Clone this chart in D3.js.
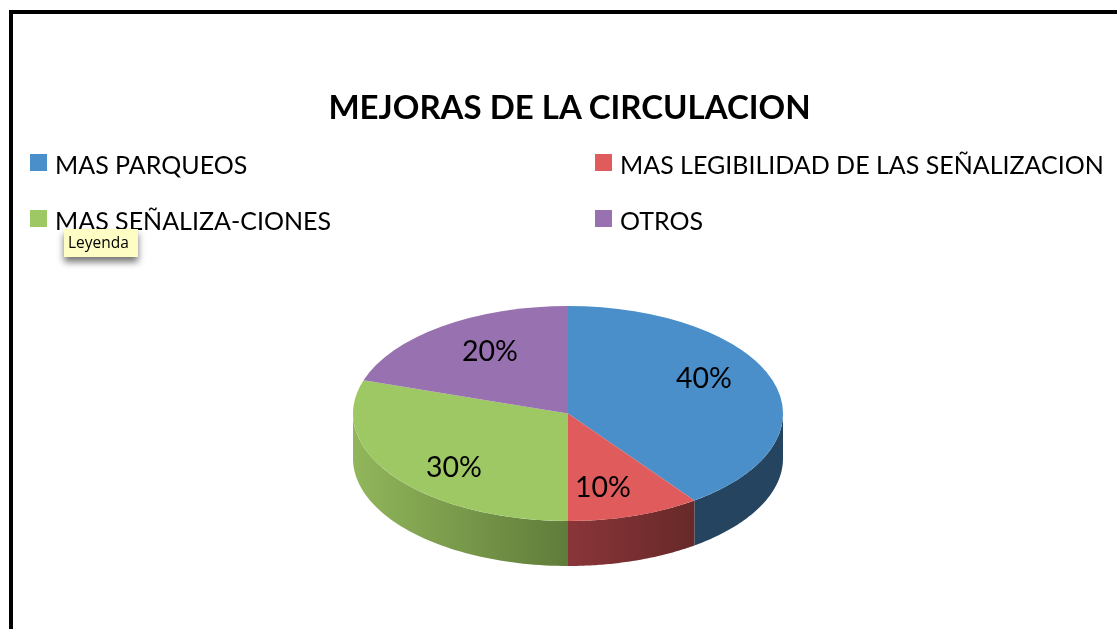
<!DOCTYPE html>
<html lang="es">
<head>
<meta charset="utf-8">
<title>Mejoras de la circulacion</title>
<script src="https://cdn.jsdelivr.net/npm/d3@7"></script>
<style>
    html, body { margin: 0; padding: 0; background: #fff; overflow: hidden; }
    svg { display: block; filter: blur(0.45px); }
    text { font-family: Lato, Carlito, "Open Sans", sans-serif; fill: #000; }
</style>
</head>
<body>
<div id="chart"></div>
<script>
const titleText = "MEJORAS DE LA CIRCULACION";
const categories = ["MAS PARQUEOS", "MAS LEGIBILIDAD DE LAS SEÑALIZACION", "MAS SEÑALIZA-CIONES", "OTROS"];
const values = [40, 10, 30, 20];
const topColors = ["#4a8fca", "#e05c5c", "#9ec863", "#9872b0"];
const wallLeftColors = ["#24445f", "#8a3539", "#91b65b", "#9872b0"];
const wallRightColors = ["#24445f", "#672929", "#607c3a", "#9872b0"];

const width = 1117, height = 629;
const cx = 568, cy = 413.5, rx = 215, ry = 107.5, depth = 45;

const svg = d3.select("#chart").append("svg")
    .attr("width", width)
    .attr("height", height);

// frame runs off the right and bottom of the screenshot
svg.append("rect")
    .attr("x", 11).attr("y", 12)
    .attr("width", width + 20).attr("height", height + 20)
    .attr("fill", "#fff")
    .attr("stroke", "#000")
    .attr("stroke-width", 4);

svg.append("text")
    .attr("x", 569.5).attr("y", 119)
    .attr("text-anchor", "middle")
    .attr("font-size", 33)
    .attr("font-weight", 700)
    .text(titleText);

// legend: two columns, filled by column order of the original
const legendCols = [30, 595];
const legendRows = [154, 210];
const legendItems = [
    { i: 0, col: 0, row: 0 },
    { i: 1, col: 1, row: 0 },
    { i: 2, col: 0, row: 1 },
    { i: 3, col: 1, row: 1 }
];

const legend = svg.selectAll("g.legend")
    .data(legendItems)
    .join("g")
    .attr("class", "legend")
    .attr("transform", d => `translate(${legendCols[d.col]},${legendRows[d.row]})`);

legend.append("rect")
    .attr("width", 17).attr("height", 17)
    .attr("fill", d => topColors[d.i]);

legend.append("text")
    .attr("x", 25).attr("y", 20)
    .attr("font-size", 25)
    .text(d => categories[d.i]);

// pie, squashed by the x and y scales
const pieData = d3.pie().sort(null).value(d => d)(values);
const xs = d3.scaleLinear().domain([-1, 1]).range([cx - rx, cx + rx]);
const ys = d3.scaleLinear().domain([-1, 1]).range([cy - ry, cy + ry]);

const defs = svg.append("defs");
const wallGroup = svg.append("g");
const topGroup = svg.append("g");

const outline = d3.line()
    .x(d => xs(Math.sin(d.a)))
    .y(d => ys(-Math.cos(d.a)) + d.drop);

pieData.forEach((slice, i) => {
    // only the front half of the rim is visible
    const a0 = Math.max(slice.startAngle, Math.PI / 2);
    const a1 = Math.min(slice.endAngle, Math.PI * 1.5);
    if (a1 <= a0) return;

    const steps = d3.range(0, 61).map(k => a0 + (a1 - a0) * k / 60);
    const rim = steps.map(a => ({ a, drop: 0 }))
        .concat(steps.slice().reverse().map(a => ({ a, drop: depth })));

    const gradId = `wall-${i}`;
    const xA = xs(Math.sin(a0)), xB = xs(Math.sin(a1));
    const grad = defs.append("linearGradient")
        .attr("id", gradId)
        .attr("gradientUnits", "userSpaceOnUse")
        .attr("x1", Math.min(xA, xB)).attr("x2", Math.max(xA, xB))
        .attr("y1", 0).attr("y2", 0);
    // the gradient runs left to right on screen, the red and green walls go right to left by angle
    grad.append("stop").attr("offset", 0).attr("stop-color", wallLeftColors[i]);
    grad.append("stop").attr("offset", 1).attr("stop-color", wallRightColors[i]);

    wallGroup.append("path")
        .attr("d", outline(rim) + "Z")
        .attr("fill", `url(#${gradId})`);
});

const arc = d3.arc().innerRadius(0).outerRadius(1);

topGroup.selectAll("path")
    .data(pieData)
    .join("path")
    .attr("transform", `translate(${cx},${cy}) scale(${rx},${ry})`)
    .attr("d", arc)
    .attr("fill", (d, i) => topColors[i]);

// percent labels sit where the original placed them, not on the centroid
const labelAnchors = [[704, 388], [603, 497], [454, 477], [490, 361]];
svg.selectAll("text.pct")
    .data(values)
    .join("text")
    .attr("class", "pct")
    .attr("x", (d, i) => labelAnchors[i][0])
    .attr("y", (d, i) => labelAnchors[i][1])
    .attr("text-anchor", "middle")
    .attr("font-size", 28.5)
    .text(d => `${d}%`);

// "Leyenda" tooltip from the screenshot
defs.append("filter")
    .attr("id", "tipShadow")
    .attr("x", "-20%").attr("y", "-30%")
    .attr("width", "140%").attr("height", "190%")
    .append("feDropShadow")
    .attr("dx", 0).attr("dy", 5)
    .attr("stdDeviation", 3.5)
    .attr("flood-color", "#000")
    .attr("flood-opacity", 0.55);

const tip = svg.append("g").attr("transform", "translate(64,229)");
tip.append("rect")
    .attr("width", 74).attr("height", 28)
    .attr("fill", "#fdfdc4")
    .attr("filter", "url(#tipShadow)");
tip.append("text")
    .attr("x", 4).attr("y", 19)
    .attr("font-size", 15.5)
    .style("font-family", "'Open Sans', sans-serif")
    .text("Leyenda");
</script>
</body>
</html>
